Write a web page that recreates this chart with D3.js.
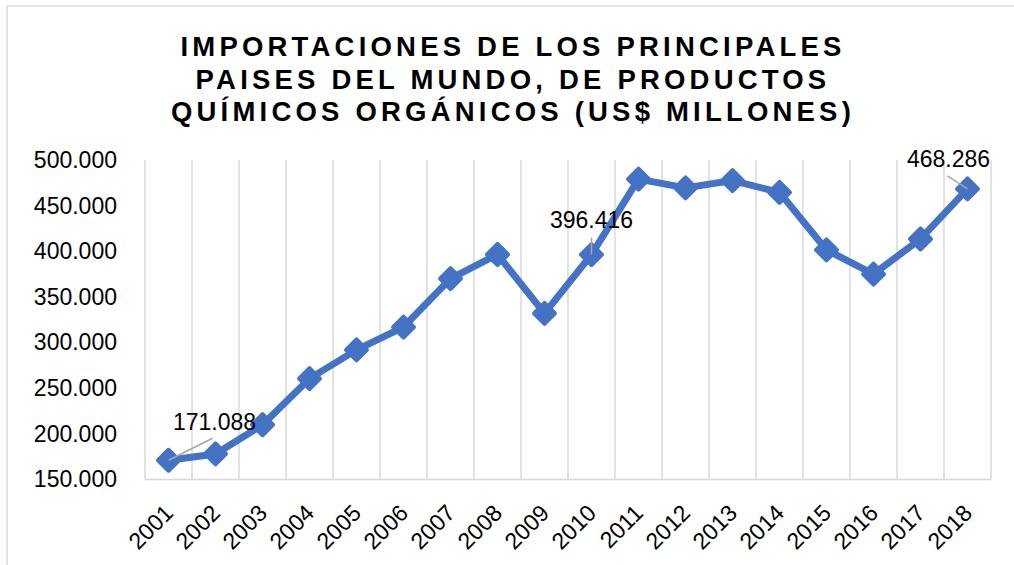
<!DOCTYPE html>
<html><head><meta charset="utf-8">
<script src="https://cdn.jsdelivr.net/npm/d3@7"></script>
<style>
html,body{margin:0;padding:0;background:#fff;}
svg text{font-family:Arial,"Liberation Sans",sans-serif;}
</style></head>
<body>
<svg id="chart" width="1014" height="565"></svg>
<script>
const titleLines = ["IMPORTACIONES DE LOS PRINCIPALES","PAISES DEL MUNDO, DE PRODUCTOS","QUÍMICOS ORGÁNICOS (US$ MILLONES)"];
const years = ["2001","2002","2003","2004","2005","2006","2007","2008","2009","2010","2011","2012","2013","2014","2015","2016","2017","2018"];
const values = [171088,178000,210000,260500,292000,317000,370000,396500,332000,396416,479000,469500,477500,464500,401500,375000,413500,468286];
const yTicks = [150000,200000,250000,300000,350000,400000,450000,500000];
const labeled = [
  {year:"2001", text:"171.088"},
  {year:"2010", text:"396.416"},
  {year:"2018", text:"468.286"}
];

const svg = d3.select("#chart");
const blue = "#4472C4", grid = "#D9D9D9";
const L = 145, R = 991, T = 160, B = 479.5;

svg.append("rect").attr("x",7).attr("y",6).attr("width",1012).attr("height",570)
  .attr("fill","#fff").attr("stroke",grid).attr("stroke-width",1.5);

const x = d3.scaleBand().domain(years).range([L,R]).padding(0);
const y = d3.scaleLinear().domain([150000,500000]).range([B,T]);

// title
const tt = svg.append("text").attr("text-anchor","middle").attr("font-weight","bold")
  .attr("font-size",27.5).attr("letter-spacing","4.2px").attr("fill","#000");
titleLines.forEach((t,i)=>tt.append("tspan").attr("x",513).attr("y",56+i*32.5).text(t));

// vertical category gridlines
const gx = d3.range(years.length+1).map(i=> i<years.length ? x(years[i]) : R);
svg.append("g").selectAll("line").data(gx).join("line")
  .attr("x1",d=>d).attr("x2",d=>d).attr("y1",T).attr("y2",B)
  .attr("stroke",grid).attr("stroke-width",1.5);
svg.append("line").attr("x1",L).attr("x2",R).attr("y1",B).attr("y2",B)
  .attr("stroke",grid).attr("stroke-width",1.5);

// y axis labels
const fmt = v => d3.format(",")(v).replace(/,/g,".");
const yAxis = d3.axisLeft(y).tickValues(yTicks).tickSize(0).tickPadding(0).tickFormat(fmt);
const ya = svg.append("g").attr("transform",`translate(117,0)`).call(yAxis);
ya.select(".domain").remove();
ya.selectAll("text").attr("font-size",23).attr("fill","#000").attr("font-family","Arial, 'Liberation Sans', sans-serif");

// x axis labels
const xAxis = d3.axisBottom(x).tickSize(0).tickPadding(0);
const xa = svg.append("g").attr("transform",`translate(0,${B})`).call(xAxis);
xa.select(".domain").remove();
xa.selectAll(".tick text").attr("font-size",23).attr("fill","#000")
  .attr("font-family","Arial, 'Liberation Sans', sans-serif")
  .attr("text-anchor","end").attr("dy",null).attr("y",null)
  .attr("transform","translate(6,35) rotate(-45)");

const cx = d => x(d) + x.bandwidth()/2;

// line
const line = d3.line().x((d,i)=>cx(years[i])).y(d=>y(d));
svg.append("path").datum(values).attr("d",line).attr("fill","none")
  .attr("stroke",blue).attr("stroke-width",7).attr("stroke-linejoin","round");

// markers
const s = 10.5;
svg.append("g").selectAll("path").data(values).join("path")
  .attr("d",(d,i)=>{const px=cx(years[i]),py=y(d);return `M${px},${py-s}L${px+s},${py}L${px},${py+s}L${px-s},${py}Z`;})
  .attr("fill",blue).attr("stroke",blue).attr("stroke-width",4).attr("stroke-linejoin","round");

// leader lines
labeled.forEach(l=>{
  const i = years.indexOf(l.year);
  const px = cx(l.year), py = y(values[i]);
  let lx1, ly1;
  if(l.year==="2001"){lx1=px+44; ly1=py-22;}
  else if(l.year==="2010"){lx1=px; ly1=py-17;}
  else {lx1=px-20; ly1=py-13;}
  svg.append("line").attr("x1",px).attr("y1",py).attr("x2",lx1).attr("y2",ly1)
    .attr("stroke","#A6A6A6").attr("stroke-width",1.5);
});
const labelPos = {"2001":[173,430],"2010":[550,228],"2018":[907,167]};
svg.append("g").selectAll("text").data(labeled).join("text")
  .attr("x",d=>labelPos[d.year][0]).attr("y",d=>labelPos[d.year][1])
  .attr("font-size",23).attr("fill","#000").text(d=>d.text);
</script>
</body></html>
